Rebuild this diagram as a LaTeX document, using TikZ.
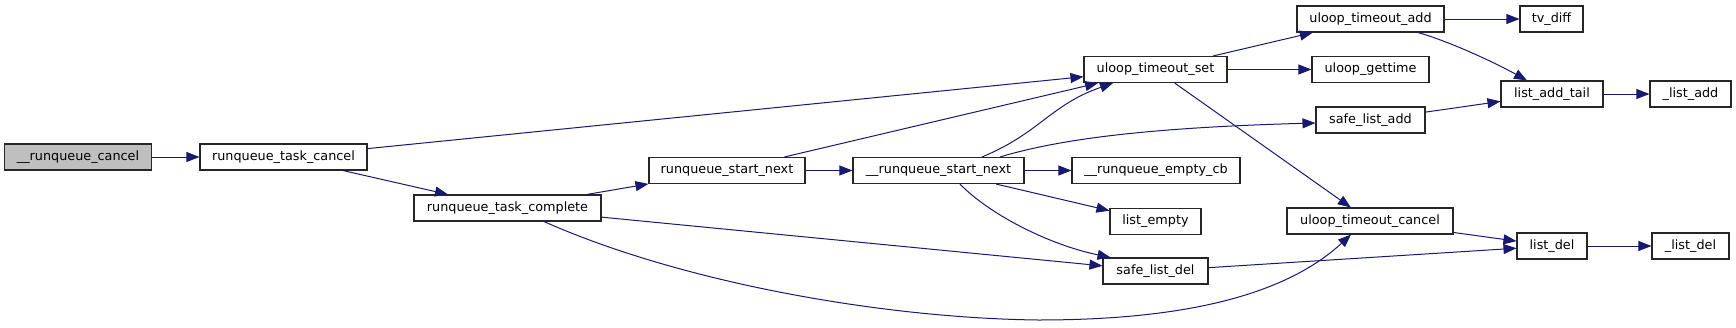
\documentclass[tikz,border=0pt]{standalone}
\usepackage{fontspec}
\setmainfont{DejaVu Sans}
\usetikzlibrary{arrows.meta,calc}
\definecolor{edgeblue}{HTML}{191970}
\definecolor{boxgray}{HTML}{BFBFBF}
\begin{document}
\begin{tikzpicture}[x=0.5pt,y=-0.5pt,
  fn/.style={draw=black!85, line width=0.55pt, fill=white, minimum height=13pt, inner sep=0pt,
             font=\fontsize{6.4pt}{7.7pt}\selectfont, text=black},
  call/.style={draw=edgeblue, line width=0.5pt, -{Triangle[length=6.5pt,width=5pt]}}]
\useasboundingbox (0,0) rectangle (1736,327);
% nodes
\node[fn, fill=boxgray, minimum width=73.5pt] (rc) at (78,157) {\_\_runqueue\_cancel};
\node[fn, minimum width=83.5pt] (rtc) at (283.5,157) {runqueue\_task\_cancel};
\node[fn, minimum width=93.5pt] (rtcomp) at (507.5,208) {runqueue\_task\_complete};
\node[fn, minimum width=78pt] (rsn) at (727,170.5) {runqueue\_start\_next};
\node[fn, minimum width=85.5pt] (rsnb) at (938.5,170.5) {\_\_runqueue\_start\_next};
\node[fn, minimum width=84pt] (ecb) at (1156,170.5) {\_\_runqueue\_empty\_cb};
\node[fn, minimum width=45.5pt] (lempty) at (1155.5,221.5) {list\_empty};
\node[fn, minimum width=52.5pt] (sld) at (1155.5,271) {safe\_list\_del};
\node[fn, minimum width=71.5pt] (uts) at (1155.5,69.5) {uloop\_timeout\_set};
\node[fn, minimum width=58.5pt] (ugt) at (1370.5,69.5) {uloop\_gettime};
\node[fn, minimum width=73.5pt] (uta) at (1370.5,19) {uloop\_timeout\_add};
\node[fn, minimum width=31.5pt] (tvd) at (1551.5,19) {tv\_diff};
\node[fn, minimum width=54.5pt] (sla) at (1370.5,120) {safe\_list\_add};
\node[fn, minimum width=51pt] (lat) at (1552,94) {list\_add\_tail};
\node[fn, minimum width=40.5pt] (la) at (1690.5,94) {\_list\_add};
\node[fn, minimum width=83pt] (utc) at (1370,221) {uloop\_timeout\_cancel};
\node[fn, minimum width=35pt] (ld) at (1552,246) {list\_del};
\node[fn, minimum width=38.5pt] (ldb) at (1690.5,246) {\_list\_del};
% edges
\draw[call] (rc) -- (rtc);
\draw[call] (rtc) -- (uts);
\draw[call] (rtc) -- (rtcomp);
\draw[call] (rtcomp) -- (rsn);
\draw[call] (rtcomp) -- (sld);
\draw[call] ($(rtcomp.south)+(36.5,0)$) .. controls (680,282) and (880,318) .. (1038,320)
            .. controls (1170,320) and (1280,300) .. ($(utc.south)+(-19,0)$);
\draw[call] (rsn) -- (uts);
\draw[call] (rsn) -- (rsnb);
\draw[call] ($(rsnb.north)+(43.5,0)$) .. controls (1040,133) and (1050,105) .. ($(uts.south)+(-42.5,0)$);
\draw[call] ($(rsnb.north)+(61.5,0)$) .. controls (1050,142) and (1130,128) .. ($(sla.west)+(0,3)$);
\draw[call] (rsnb) -- (ecb);
\draw[call] (rsnb) -- (lempty);
\draw[call] ($(rsnb.south)+(21.5,0)$) .. controls (990,215) and (1050,245) .. ($(sld.north)+(-45,0)$);
\draw[call] (uts) -- (uta);
\draw[call] (uts) -- (ugt);
\draw[call] (uts) -- (utc);
\draw[call] (uta) -- (tvd);
\draw[call] ($(uta.south)+(47.5,0)$) .. controls (1445,40) and (1490,60) .. ($(lat.north)+(-25,0)$);
\draw[call] (sla) -- (lat);
\draw[call] (lat) -- (la);
\draw[call] (utc) -- (ld);
\draw[call] (sld) -- (ld);
\draw[call] (ld) -- (ldb);
\end{tikzpicture}
\end{document}
